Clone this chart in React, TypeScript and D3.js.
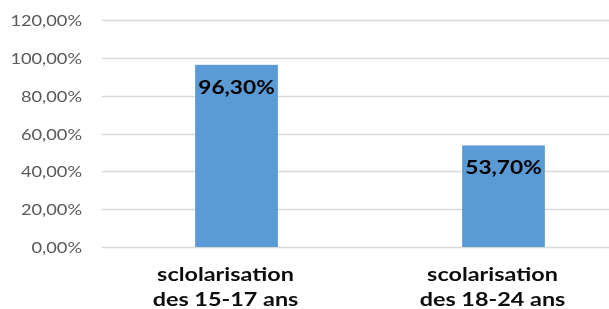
import { useEffect, useRef } from "react"
import * as d3 from "d3"

const categories = [["sclolarisation", "des 15-17 ans"], ["scolarisation", "des 18-24 ans"]]
const values = [0.963, 0.537]
const ticks = [0, 0.2, 0.4, 0.6, 0.8, 1, 1.2]

const width = 609
const height = 309
const marginLeft = 103
const marginTop = 20
const plotBottom = 247

const fmt = (v: number) => (v * 100).toFixed(2).replace(".", ",") + "%"

const App = () => {
  const svgRef = useRef<SVGSVGElement>(null)

  useEffect(() => {
    const svg = d3.select(svgRef.current)
    svg.selectAll("*").remove()

    // band runs past the right edge, the chart is cropped there
    const x = d3.scaleBand<number>()
      .domain(values.map((_, i) => i))
      .range([marginLeft, marginLeft + 534])
      .paddingInner(0.69)
      .paddingOuter(0.345)

    const y = d3.scaleLinear()
      .domain([0, 1.2])
      .range([plotBottom, marginTop])

    const cx = (i: number) => x(i)! + x.bandwidth() / 2

    // gridlines
    svg.append("g")
      .selectAll("line")
      .data(ticks)
      .join("line")
        .attr("x1", marginLeft - 1)
        .attr("x2", width)
        .attr("y1", d => Math.round(y(d)) + 0.5)
        .attr("y2", d => Math.round(y(d)) + 0.5)
        .attr("stroke", "#d9d9d9")
        .attr("stroke-width", 1.5)

    // tick labels (the source image is stretched sideways, hence scaleX)
    svg.append("g")
        .attr("font-family", "Lato, sans-serif")
        .attr("font-size", 16)
        .attr("fill", "#595959")
        .attr("text-anchor", "end")
      .selectAll("text")
      .data(ticks)
      .join("text")
        .attr("transform", d => `translate(82,${y(d) + 6}) scale(1.14,1)`)
        .text(d => fmt(d))

    // bars
    svg.append("g")
        .attr("fill", "#5b9bd5")
      .selectAll("rect")
      .data(values)
      .join("rect")
        .attr("x", (_, i) => x(i)!)
        .attr("y", d => y(d))
        .attr("width", x.bandwidth())
        .attr("height", d => plotBottom - y(d))

    // value labels
    svg.append("g")
        .attr("font-family", "Lato, sans-serif")
        .attr("font-size", 18)
        .attr("font-weight", "bold")
        .attr("fill", "#000")
        .attr("text-anchor", "middle")
      .selectAll("text")
      .data(values)
      .join("text")
        .attr("transform", (d, i) => `translate(${cx(i)},${y(d) + 29}) scale(1.26,1)`)
        .text(d => fmt(d))

    // category labels, two lines each, sitting a bit left of the bar centre
    const cat = svg.append("g")
        .attr("font-family", "Lato, sans-serif")
        .attr("font-size", 18)
        .attr("font-weight", "bold")
        .attr("fill", "#0d0d0d")
        .attr("text-anchor", "middle")
      .selectAll("g")
      .data(categories)
      .join("g")
        .attr("transform", (_, i) => `translate(${cx(i) - 11},0)`)
    cat.selectAll("text")
      .data(d => d)
      .join("text")
        .attr("transform", (_, j) => `translate(0,${281 + j * 24.5}) scale(1.3,1)`)
        .text(d => d)
  }, [])

  return (
    <svg ref={svgRef} width={width} height={height}
      style={{ display: "block", position: "fixed", left: 0, top: 0 }} />
  )
}

export default App
